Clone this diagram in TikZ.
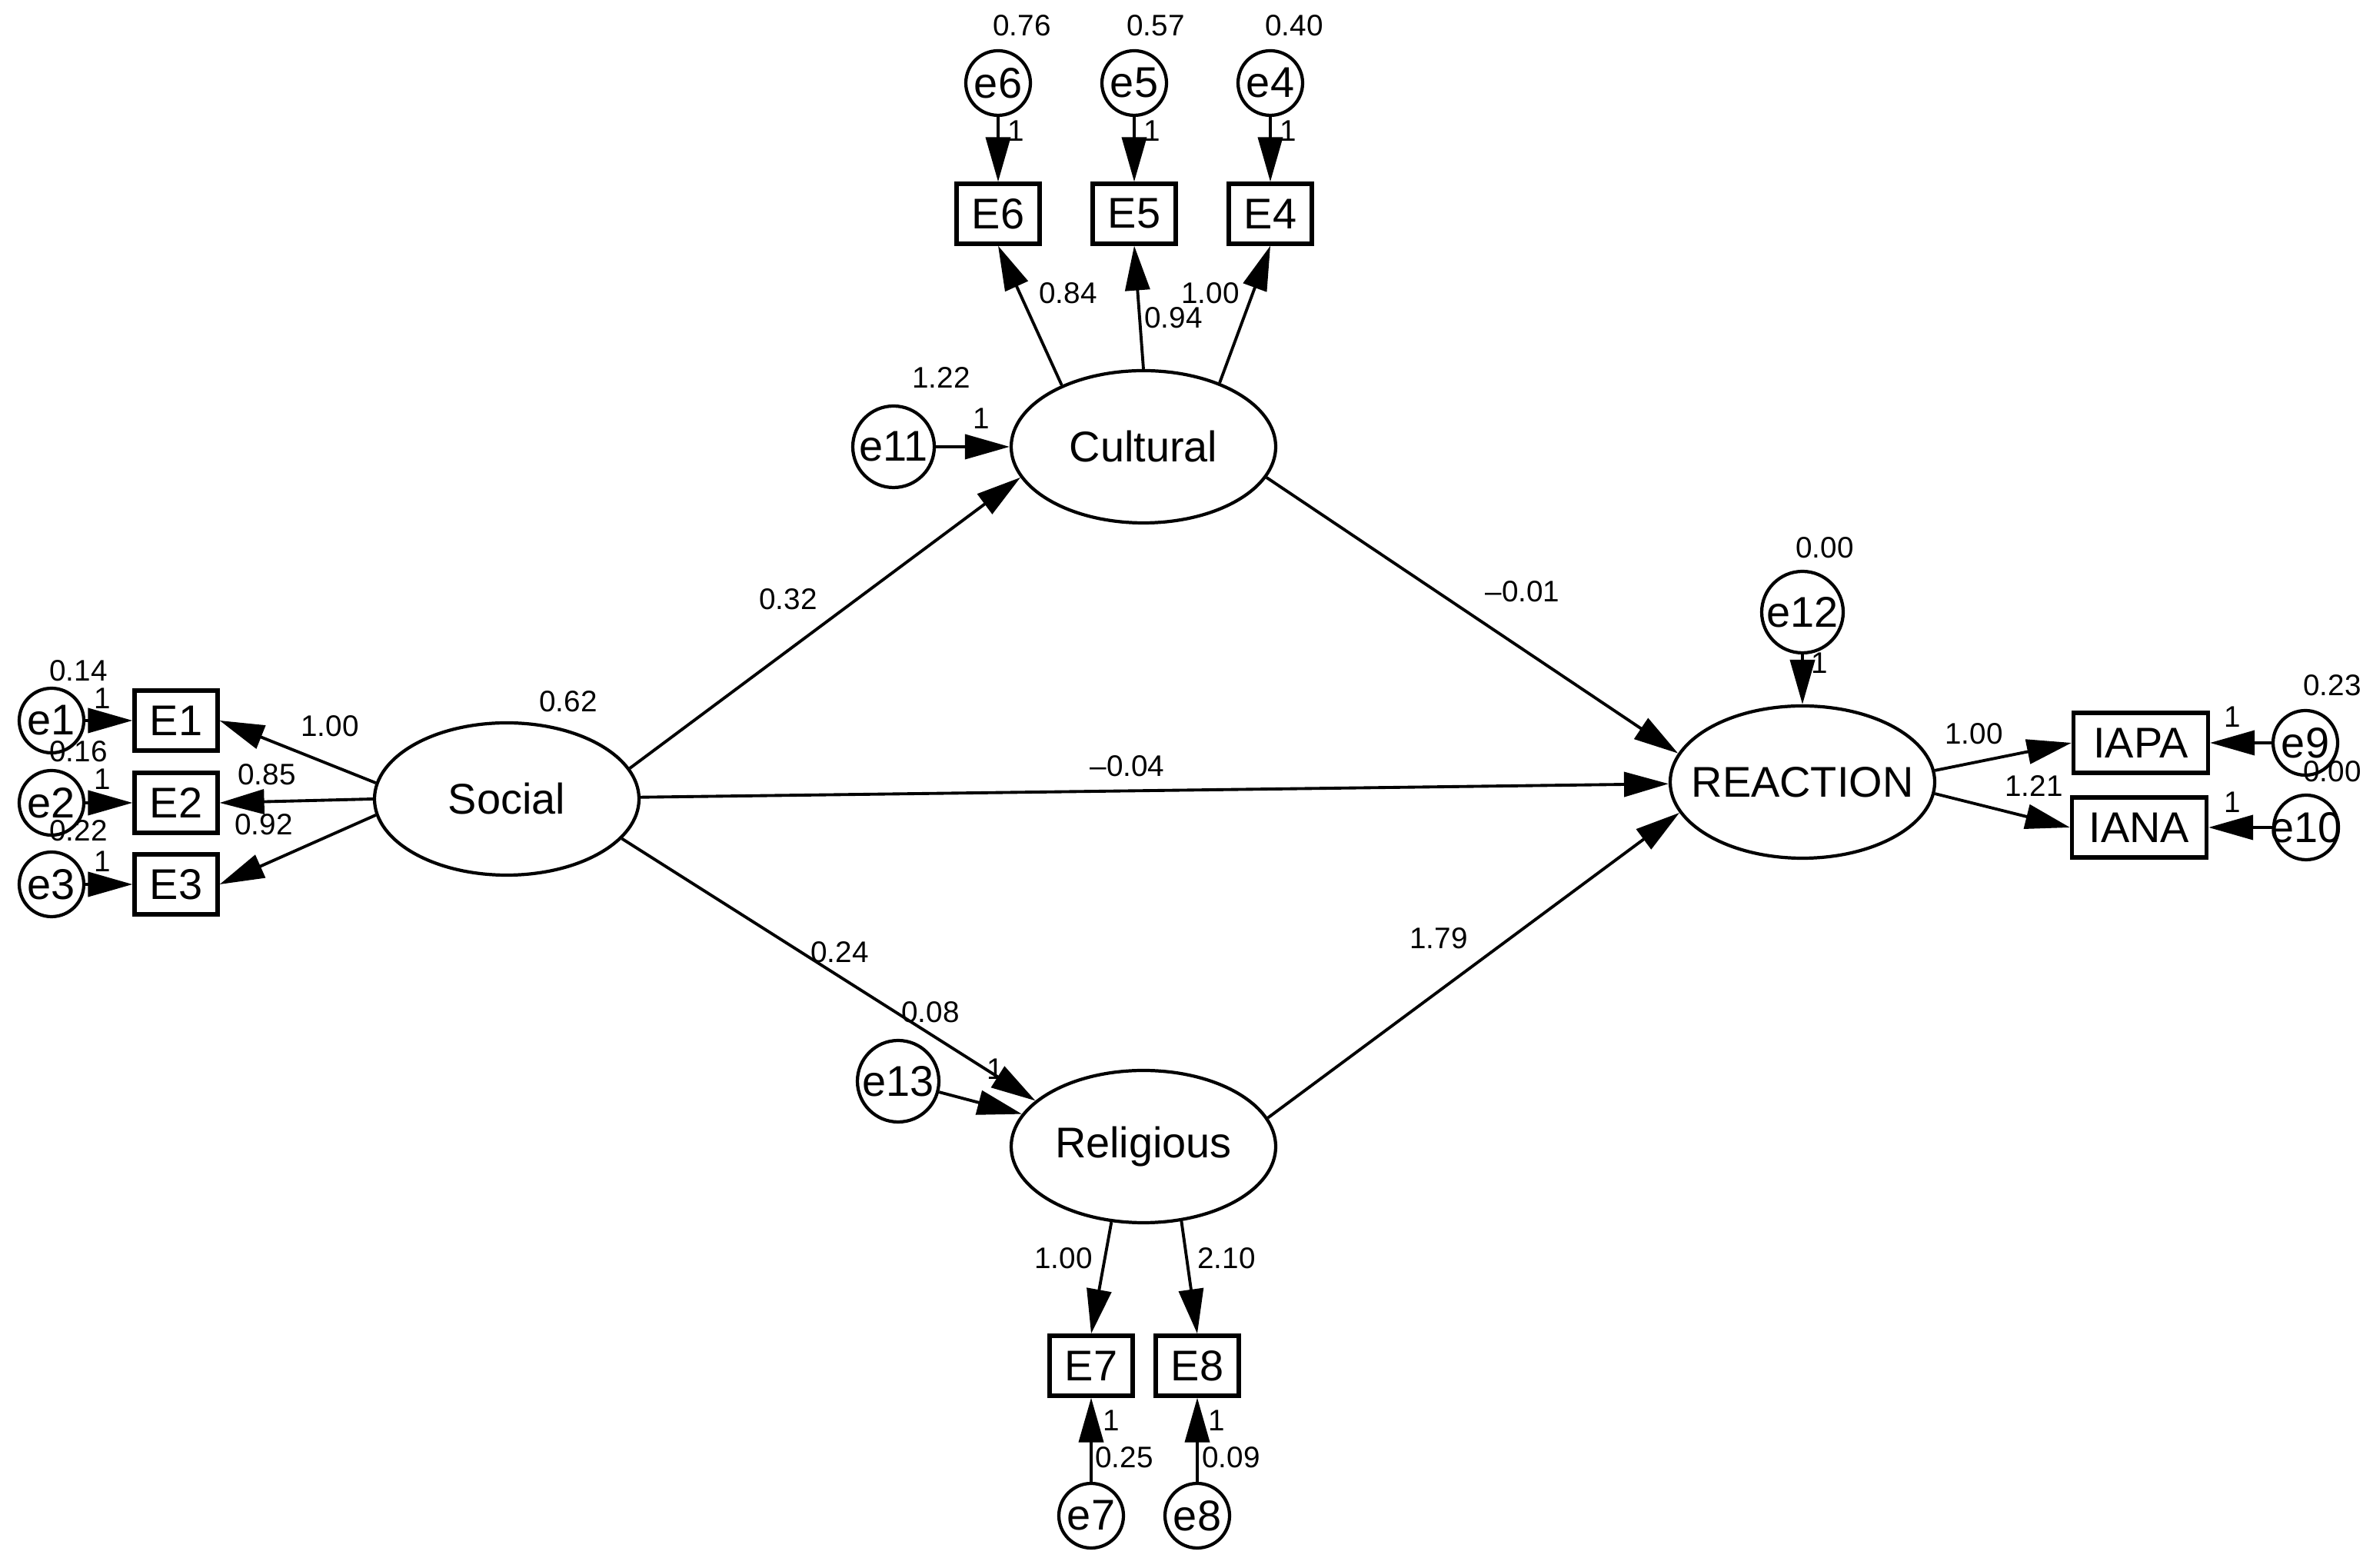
\documentclass[tikz,border=0pt]{standalone}
\usepackage{fontspec}
\setmainfont{Liberation Sans}
\usetikzlibrary{arrows.meta,shapes.geometric,calc}

\begin{document}
\begin{tikzpicture}[
	latent/.style={ellipse,draw,line width=1.2pt,minimum width=3.44cm,minimum height=1.98cm,inner sep=0pt,font=\fontsize{15.9}{18}\selectfont},
	observed/.style={rectangle,draw,line width=1.5pt,minimum width=1.08cm,minimum height=0.78cm,inner sep=0pt,font=\fontsize{15.9}{18}\selectfont},
	errc/.style={circle,draw,line width=1.2pt,minimum size=0.84cm,inner sep=0pt,font=\fontsize{15.9}{18}\selectfont},
	errbig/.style={errc,minimum size=1.06cm},
	val/.style={inner sep=0pt,font=\fontsize{11}{13}\selectfont},
	arr/.style={line width=1.1pt,-{Triangle[length=5.8mm,width=3.2mm]}}
	]
	\useasboundingbox (0,0) rectangle (30.86,20.38);
	
	% latent variables
	\node[latent] (Social) at (6.59,9.99) {Social};
	\node[latent] (Cultural) at (14.87,14.57) {Cultural};
	\node[latent] (Religious) at (14.87,5.47) {Religious};
	\node[latent,inner xsep=-0.25cm] (Reaction) at (23.44,10.21) {REACTION};
	
	% observed variables
	\node[observed] (E1) at (2.29,11.01) {E1};
	\node[observed] (E2) at (2.29,9.94) {E2};
	\node[observed] (E3) at (2.29,8.88) {E3};
	\node[observed] (E6) at (12.98,17.60) {E6};
	\node[observed] (E5) at (14.75,17.60) {E5};
	\node[observed] (E4) at (16.52,17.60) {E4};
	\node[observed] (E7) at (14.19,2.62) {E7};
	\node[observed] (E8) at (15.57,2.62) {E8};
	\node[observed,minimum width=1.75cm] (IAPA) at (27.84,10.72) {IAPA};
	\node[observed,minimum width=1.75cm] (IANA) at (27.82,9.62) {IANA};
	
	% error terms
	\node[errc] (e1) at (0.67,11.01) {e1};
	\node[errc] (e2) at (0.67,9.94) {e2};
	\node[errc] (e3) at (0.67,8.88) {e3};
	\node[errc] (e6) at (12.98,19.30) {e6};
	\node[errc] (e5) at (14.75,19.30) {e5};
	\node[errc] (e4) at (16.52,19.30) {e4};
	\node[errc] (e7) at (14.19,0.67) {e7};
	\node[errc] (e8) at (15.57,0.67) {e8};
	\node[errc] (e9) at (29.98,10.72) {e9};
	\node[errc] (e10) at (29.99,9.62) {};
	\node[font=\fontsize{15.9}{18}\selectfont,inner sep=0pt] (e10txt) at (e10) {e10};
	\node[errbig] (e11) at (11.62,14.57) {e11};
	\node[errbig] (e12) at (23.44,12.42) {e12};
	\node[errbig] (e13) at (11.68,6.32) {e13};
	
	% error paths
	\draw[arr] (e1) -- (E1);
	\draw[arr] (e2) -- (E2);
	\draw[arr] (e3) -- (E3);
	\draw[arr] (e6) -- (E6);
	\draw[arr] (e5) -- (E5);
	\draw[arr] (e4) -- (E4);
	\draw[arr] (e7) -- (E7);
	\draw[arr] (e8) -- (E8);
	\draw[arr] (e9) -- (IAPA);
	\draw[arr] (e10) -- (IANA);
	\draw[arr] (e11) -- (Cultural.west);
	\draw[arr] (e12) -- (Reaction.north);
	\draw[arr] (e13) -- (Religious.165);
	
	% loadings
	\draw[arr] (Social.173) -- (E1.east);
	\draw[arr] (Social.west) -- (E2.east);
	\draw[arr] (Social.187) -- (E3.east);
	\draw[arr] (Cultural.143) -- (E6.south);
	\draw[arr] (Cultural.north) -- (E5.south);
	\draw[arr] (Cultural.40) -- (E4.south);
	\draw[arr] (Religious.247) -- (E7.north);
	\draw[arr] (Religious.297) -- (E8.north);
	\draw[arr] (Reaction.5) -- (IAPA.west);
	\draw[arr] (Reaction.355) -- (IANA.west);
	
	% structural paths
	\draw[arr] (Social.14) -- (Cultural.194);
	\draw[arr] (Social) -- (Reaction);
	\draw[arr] (Social.341) -- (Religious.157);
	\draw[arr] (Cultural.346) -- (Reaction.167);
	\draw[arr] (Religious.13) -- (Reaction.194);
	
	% estimates
	\node[val] (v6) at (13.29,20.05) {0.76};
	\node[val] (v5) at (15.03,20.05) {0.57};
	\node[val] (v4) at (16.83,20.05) {0.40};
	\node[val] (f6) at (13.21,18.68) {1};
	\node[val] (f5) at (14.98,18.68) {1};
	\node[val] (f4) at (16.75,18.68) {1};
	\node[val] (l6) at (13.89,16.57) {0.84};
	\node[val] (l5) at (15.26,16.25) {0.94};
	\node[val] (l4) at (15.74,16.57) {1.00};
	\node[val] (v11) at (12.24,15.47) {1.22};
	\node[val] (f11) at (12.76,14.94) {1};
	\node[val] (bSC) at (10.25,12.59) {0.32};
	\node[val] (vSoc) at (7.39,11.26) {0.62};
	\node[val] (bCR) at (19.80,12.69) {\textendash0.01};
	\node[val] (v12) at (23.73,13.26) {0.00};
	\node[val] (f12) at (23.66,11.76) {1};
	\node[val] (bSR) at (14.66,10.42) {\textendash0.04};
	\node[val] (lA) at (25.67,10.84) {1.00};
	\node[val] (lN) at (26.45,10.16) {1.21};
	\node[val] (v9) at (30.33,11.47) {0.23};
	\node[val] (v10) at (30.33,10.35) {0.00};
	\node[val] (f9) at (29.03,11.06) {1};
	\node[val] (f10) at (29.03,9.95) {1};
	\node[val] (l1) at (4.29,10.94) {1.00};
	\node[val] (l2) at (3.47,10.31) {0.85};
	\node[val] (l3) at (3.43,9.66) {0.92};
	\node[val] (v1) at (1.02,11.66) {0.14};
	\node[val] (f1) at (1.33,11.30) {1};
	\node[val] (v2) at (1.02,10.61) {0.16};
	\node[val] (f2) at (1.33,10.25) {1};
	\node[val] (v3) at (1.02,9.58) {0.22};
	\node[val] (f3) at (1.33,9.18) {1};
	\node[val] (bSRel) at (10.92,8.00) {0.24};
	\node[val] (v13) at (12.10,7.22) {0.08};
	\node[val] (f13) at (12.94,6.48) {1};
	\node[val] (bRR) at (18.71,8.18) {1.79};
	\node[val] (l7) at (13.83,4.02) {1.00};
	\node[val] (l8) at (15.95,4.02) {2.10};
	\node[val] (f7) at (14.45,1.91) {1};
	\node[val] (v7) at (14.62,1.43) {0.25};
	\node[val] (f8) at (15.82,1.91) {1};
	\node[val] (v8) at (16.01,1.43) {0.09};
	
\end{tikzpicture}
\end{document}
